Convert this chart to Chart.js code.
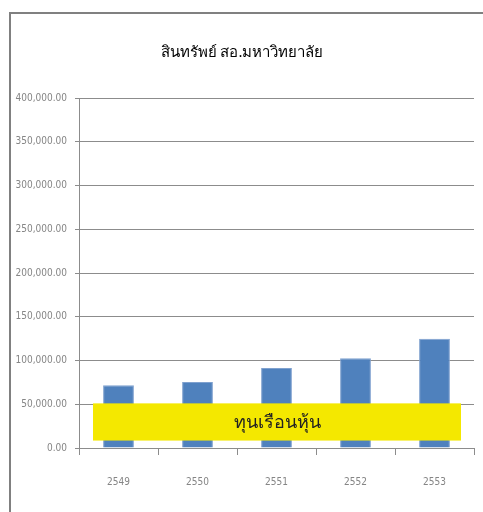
<!DOCTYPE html>
<html>
<head>
<meta charset="utf-8">
<script src="https://cdn.jsdelivr.net/npm/chart.js@4"></script>
<style>
  html, body { margin: 0; padding: 0; background: #fff; }
  #wrap { width: 483px; height: 512px; position: relative; }
</style>
</head>
<body>
<div id="wrap"><canvas id="myChart" width="483" height="512"></canvas></div>
<script>
var titleText = "สินทรัพย์ สอ.มหาวิทยาลัย"
var years = ["2549", "2550", "2551", "2552", "2553"]
var assets = [71800, 75500, 91300, 102600, 124800]
var boxLabel = "ทุนเรือนหุ้น"
var boxRange = [8500, 51000]  // y values covered by the yellow label box
var yMax = 400000
var yStep = 50000

var narrow = "'Liberation Sans Narrow', 'DejaVu Sans Condensed', 'Liberation Sans', sans-serif"

// frame lines on top and left, like the original image
var framePlugin = {
  id: 'frame',
  beforeDraw: function(chart){
    var c = chart.ctx
    c.save()
    c.strokeStyle = '#808080'
    c.lineWidth = 2
    c.beginPath()
    c.moveTo(10, 512)
    c.lineTo(10, 13)
    c.lineTo(483, 13)
    c.stroke()
    c.restore()
  }
}

// yellow label box over the bottom of the bars
var boxPlugin = {
  id: 'labelBox',
  afterDatasetsDraw: function(chart){
    var c = chart.ctx
    var area = chart.chartArea
    var y = chart.scales.y
    var top = y.getPixelForValue(boxRange[1])
    var bottom = y.getPixelForValue(boxRange[0])
    var left = area.left + 14
    var right = area.right - 13
    c.save()
    c.fillStyle = '#F4E800'
    c.fillRect(left, top, right - left, bottom - top)
    c.fillStyle = '#222'
    c.font = "18px 'Noto Sans', sans-serif"
    c.textAlign = 'center'
    c.textBaseline = 'middle'
    c.fillText(boxLabel, (left + right) / 2, (top + bottom) / 2 + 1)
    c.restore()
  }
}

var ctx = document.getElementById('myChart')
var chart = new Chart(ctx, {
  type: 'bar',
  data: {
    labels: years,
    datasets: [{
      label: 'assets',
      data: assets,
      backgroundColor: '#4F81BD',
      borderColor: '#7FA1CF',
      borderWidth: 1,
      barPercentage: 0.39,
      categoryPercentage: 1
    }]
  },
  options: {
    responsive: false,
    animation: false,
    layout: { padding: { left: 10, right: 9, top: 0, bottom: 0 } },
    plugins: {
      legend: { display: false },
      tooltip: { enabled: false },
      title: {
        display: true,
        text: titleText,
        color: '#000',
        font: { family: "'Noto Sans', sans-serif", size: 15, weight: 'normal' },
        padding: { top: 44, bottom: 36 }
      }
    },
    scales: {
      y: {
        min: 0,
        max: yMax,
        ticks: {
          stepSize: yStep,
          color: '#858585',
          padding: 8,
          font: { family: narrow, size: 10 },
          callback: function(v){
            return Number(v).toLocaleString('en-US', { minimumFractionDigits: 2, maximumFractionDigits: 2 })
          }
        },
        grid: { color: '#8c8c8c', tickLength: 4, lineWidth: 1 },
        border: { color: '#8c8c8c' },
        afterFit: function(s){ s.width = 69 }
      },
      x: {
        ticks: {
          color: '#858585',
          padding: 21,
          font: { family: narrow, size: 10 }
        },
        grid: { offset: true, drawOnChartArea: false, drawTicks: true, tickLength: 7, color: '#8c8c8c' },
        border: { color: '#8c8c8c' },
        afterFit: function(s){ s.height = 64 }
      }
    }
  },
  plugins: [framePlugin, boxPlugin]
})
</script>
</body>
</html>
